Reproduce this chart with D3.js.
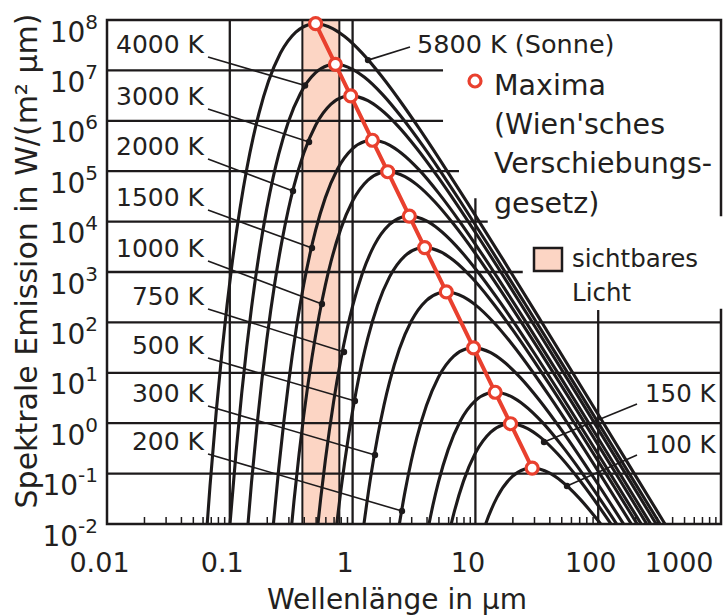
<!DOCTYPE html>
<html>
<head>
<meta charset="utf-8">
<script src="https://cdn.jsdelivr.net/npm/d3@7"></script>
<style>
  html, body { margin: 0; padding: 0; background: #fff; }
  svg { display: block; }
</style>
</head>
<body>
<svg id="chart" width="723" height="616"></svg>
<script>
// ---- data (wavelength in µm, spectral emission in W/(m² µm)) ----
const temps = [5800, 4000, 3000, 2000, 1500, 1000, 750, 500, 300, 200, 150, 100];

const curve5800 = [[0.0603, 6.55e-4], [0.0690, 0.0573], [0.0776, 1.73], [0.0862, 25.0], [0.0948, 212],
  [0.1034, 1.22e3], [0.1207, 1.73e4], [0.1379, 1.16e5], [0.1552, 4.74e5], [0.1724, 1.38e6], [0.2069, 6.13e6],
  [0.2586, 2.21e7], [0.3448, 5.77e7], [0.4310, 7.99e7], [0.500, 8.44e7], [0.6897, 6.76e7], [0.8621, 4.69e7],
  [1.207, 2.15e7], [1.724, 7.64e6], [2.586, 2.01e6], [3.448, 7.29e5], [5.172, 1.64e5], [8.621, 2.36e4],
  [17.24, 1.59e3], [34.48, 103], [86.21, 2.69], [172.4, 0.169], [344.8, 0.0106], [689.7, 6.65e-4]];
const curve4000 = [[0.100, 8.94e-3], [0.1125, 0.270], [0.125, 3.90], [0.1375, 33.1], [0.150, 190],
  [0.175, 2.70e3], [0.200, 1.81e4], [0.225, 7.40e4], [0.250, 2.16e5], [0.300, 9.56e5], [0.375, 3.45e6],
  [0.500, 9.00e6], [0.625, 1.25e7], [0.725, 1.32e7], [1.00, 1.05e7], [1.25, 7.31e6], [1.75, 3.35e6],
  [2.50, 1.19e6], [3.75, 3.14e5], [5.00, 1.14e5], [7.50, 2.56e4], [12.5, 3.68e3], [25.0, 248],
  [50.0, 16.1], [125, 0.420], [250, 0.0264], [500, 1.66e-3]];
const curve3000 = [[0.1333, 2.12e-3], [0.150, 0.0640], [0.1667, 0.926], [0.1833, 7.86], [0.200, 45.0],
  [0.2333, 641], [0.2667, 4.29e3], [0.300, 1.76e4], [0.3333, 5.12e4], [0.400, 2.27e5], [0.500, 8.18e5],
  [0.6667, 2.14e6], [0.8333, 2.96e6], [0.9667, 3.12e6], [1.333, 2.50e6], [1.667, 1.73e6], [2.333, 7.95e5],
  [3.333, 2.83e5], [5.00, 7.44e4], [6.667, 2.70e4], [10.0, 6.08e3], [16.67, 873], [33.33, 58.8],
  [66.67, 3.81], [166.7, 0.0997], [333.3, 6.27e-3]];
const curve2000 = [[0.225, 8.43e-3], [0.250, 0.122], [0.275, 1.04], [0.300, 5.93], [0.350, 84.4],
  [0.400, 565], [0.450, 2.31e3], [0.500, 6.75e3], [0.600, 2.99e4], [0.750, 1.08e5], [1.00, 2.81e5],
  [1.25, 3.89e5], [1.45, 4.11e5], [2.00, 3.30e5], [2.50, 2.28e5], [3.50, 1.05e5], [5.00, 3.72e4],
  [7.50, 9.80e3], [10.0, 3.55e3], [15.0, 801], [25.0, 115], [50.0, 7.74], [100, 0.502], [250, 0.0131],
  [500, 8.26e-4]];
const curve1500 = [[0.300, 2.00e-3], [0.3333, 0.0289], [0.3667, 0.246], [0.400, 1.41], [0.4667, 20.0],
  [0.5333, 134], [0.600, 549], [0.6667, 1.60e3], [0.800, 7.09e3], [1.00, 2.56e4], [1.333, 6.68e4],
  [1.667, 9.24e4], [1.933, 9.76e4], [2.667, 7.82e4], [3.333, 5.42e4], [4.667, 2.48e4], [6.667, 8.84e3],
  [10.0, 2.33e3], [13.33, 843], [20.0, 190], [33.33, 27.3], [66.67, 1.84], [133.3, 0.119], [333.3, 3.11e-3]];
const curve1000 = [[0.500, 3.81e-3], [0.550, 0.0324], [0.600, 0.185], [0.700, 2.64], [0.800, 17.7],
  [0.900, 72.3], [1.00, 211], [1.20, 933], [1.50, 3.37e3], [2.00, 8.79e3], [2.50, 1.22e4], [2.90, 1.29e4],
  [4.00, 1.03e4], [5.00, 7.14e3], [7.00, 3.27e3], [10.0, 1.16e3], [15.0, 306], [20.0, 111], [30.0, 25.0],
  [50.0, 3.59], [100, 0.242], [200, 0.0157], [500, 4.10e-4]];
const curve750 = [[0.7333, 7.68e-3], [0.800, 0.0440], [0.9333, 0.626], [1.0667, 4.19], [1.20, 17.2],
  [1.333, 50.0], [1.60, 221], [2.00, 799], [2.667, 2.09e3], [3.333, 2.89e3], [3.867, 3.05e3],
  [5.333, 2.44e3], [6.667, 1.69e3], [9.333, 776], [13.33, 276], [20.0, 72.7], [26.67, 26.4], [40.0, 5.94],
  [66.67, 0.852], [133.3, 0.0574], [266.7, 3.72e-3]];
const curve500 = [[1.20, 5.79e-3], [1.40, 0.0824], [1.60, 0.552], [1.80, 2.26], [2.00, 6.59], [2.40, 29.2],
  [3.00, 105], [4.00, 275], [5.00, 380], [5.80, 402], [8.00, 322], [10.0, 223], [14.0, 102], [20.0, 36.4],
  [30.0, 9.57], [40.0, 3.47], [60.0, 0.782], [100, 0.112], [200, 7.56e-3]];
const curve300 = [[2.333, 6.41e-3], [2.667, 0.0429], [3.00, 0.176], [3.333, 0.513], [4.00, 2.27],
  [5.00, 8.18], [6.667, 21.4], [8.333, 29.6], [9.667, 31.2], [13.33, 25.0], [16.67, 17.3], [23.33, 7.95],
  [33.33, 2.83], [50.0, 0.744], [66.67, 0.270], [100, 0.0608], [166.7, 8.73e-3]];
const curve200 = [[4.00, 5.65e-3], [4.50, 0.0231], [5.00, 0.0675], [6.00, 0.299], [7.50, 1.08],
  [10.0, 2.81], [12.5, 3.89], [14.5, 4.11], [20.0, 3.29], [25.0, 2.28], [35.0, 1.05], [50.0, 0.372],
  [75.0, 0.0980], [100, 0.0355], [150, 8.01e-3]];
const curve150 = [[6.00, 5.49e-3], [6.667, 0.0160], [8.00, 0.0709], [10.0, 0.256], [13.33, 0.668],
  [16.67, 0.924], [19.33, 0.976], [26.67, 0.782], [33.33, 0.542], [46.67, 0.248], [66.67, 0.0884],
  [100, 0.0233], [133.3, 8.43e-3]];
const curve100 = [[10.0, 2.11e-3], [12.0, 9.33e-3], [15.0, 0.0337], [20.0, 0.0879], [25.0, 0.122],
  [29.0, 0.129], [40.0, 0.103], [50.0, 0.0714], [70.0, 0.0327], [100, 0.0116], [150, 3.06e-3]];

// peaks of each curve (Wien)
const maxima = [[0.500, 8.44e7], [0.725, 1.32e7], [0.966, 3.12e6], [1.449, 4.11e5], [1.932, 9.76e4],
  [2.898, 1.29e4], [3.864, 3.05e3], [5.796, 402], [9.66, 31.2], [14.49, 4.11], [19.32, 0.976], [28.98, 0.129]];

const visibleBand = [0.39, 0.78];

const xTicks = [0.01, 0.1, 1, 10, 100, 1000];
const xTickLabels = ["0.01", "0.1", "1", "10", "100", "1000"];
const yTicks = [1e-2, 1e-1, 1, 1e1, 1e2, 1e3, 1e4, 1e5, 1e6, 1e7, 1e8];
const yTickExps = ["-2", "-1", "0", "1", "2", "3", "4", "5", "6", "7", "8"];

// curve labels and the dots their leaders point at
const leftLabels = ["4000 K", "3000 K", "2000 K", "1500 K", "1000 K", "750 K", "500 K", "300 K", "200 K"];
const leftDots = [[0.41, 5.0e6], [0.442, 3.8e5], [0.327, 4.05e4], [0.467, 2.99e3], [0.563, 232],
  [0.851, 25.9], [1.045, 2.75], [1.522, 0.234], [2.525, 0.0181]];
const rightLabels = ["150 K", "100 K"];
const rightDots = [[36.2, 0.424], [55.7, 0.0568]];
const sunLabel = "5800 K (Sonne)";
const sunDot = [1.335, 1.6e7];

// ---- layout ----
const plot = { left: 107, right: 721, top: 20, bottom: 524 };
const leftLabelY = [53, 105, 155, 206, 257, 305, 354, 402, 450];
const rightLabelY = [402, 453];
const font = "'DejaVu Sans', sans-serif";
const ink = "#231f20";
const lineInk = "#1d1a1b";
const red = "#e9402e";
const pink = "#fcd5c4";

const svg = d3.select("#chart").attr("font-family", font);

const x = d3.scaleLog().domain([0.01, 1000]).range([plot.left, plot.right]);
const y = d3.scaleLog().domain([1e-2, 1e8]).range([plot.bottom, plot.top]);

svg.append("defs").append("clipPath").attr("id", "clip")
  .append("rect")
  .attr("x", plot.left).attr("y", plot.top)
  .attr("width", plot.right - plot.left).attr("height", plot.bottom - plot.top);

// visible light band
svg.append("rect")
  .attr("x", x(visibleBand[0])).attr("y", plot.top)
  .attr("width", x(visibleBand[1]) - x(visibleBand[0]))
  .attr("height", plot.bottom - plot.top)
  .attr("fill", pink);

// horizontal grid, some lines stop short to leave room for the legend
const hGridEnd = new Map([[1e7, 5.45], [1e6, 5.45], [1e5, 7.35], [1e4, 12.6], [1e3, 24.3]]);
svg.append("g").selectAll("line")
  .data(yTicks.slice(1, -1))
  .join("line")
  .attr("x1", plot.left)
  .attr("x2", d => x(hGridEnd.get(d) ?? 1000))
  .attr("y1", d => y(d)).attr("y2", d => y(d))
  .attr("stroke", lineInk).attr("stroke-width", 2.3);

// vertical grid [wavelength, top value]
const vGrid = [[0.1, 1e8], [1, 1e8], [10, 2.9e4], [100, 176]];
svg.append("g").selectAll("line")
  .data(vGrid)
  .join("line")
  .attr("x1", d => x(d[0])).attr("x2", d => x(d[0]))
  .attr("y1", d => y(d[1])).attr("y2", plot.bottom)
  .attr("stroke", lineInk).attr("stroke-width", 2.3);

// band edges
svg.append("g").selectAll("line")
  .data(visibleBand)
  .join("line")
  .attr("x1", d => x(d)).attr("x2", d => x(d))
  .attr("y1", plot.top).attr("y2", plot.bottom)
  .attr("stroke", lineInk).attr("stroke-width", 2);

// frame; the right side is broken where the legend sits
const L = plot.left, R = plot.right, T = plot.top, B = plot.bottom;
svg.append("path")
  .attr("d", `M${R},${y(1.35e4)}V${T}H${L}V${B}H${R}V${y(176)}`)
  .attr("fill", "none").attr("stroke", lineInk).attr("stroke-width", 2.5)
  .attr("stroke-linecap", "square");

// minor ticks inside the bottom axis
const minorTicks = [];
[0.01, 0.1, 1, 10, 100].forEach(dec => {
  for (let k = 2; k <= 9; k++) minorTicks.push(k * dec);
});
svg.append("g")
  .attr("transform", `translate(0,${plot.bottom})`)
  .call(d3.axisBottom(x).tickValues(minorTicks).tickSize(-7).tickFormat(""))
  .call(g => g.select(".domain").remove())
  .call(g => g.selectAll(".tick line").attr("stroke", lineInk).attr("stroke-width", 1.5));

// x tick labels
svg.append("g")
  .attr("transform", `translate(0,${plot.bottom})`)
  .call(d3.axisBottom(x).tickValues(xTicks).tickSize(0).tickFormat((d, i) => xTickLabels[i]))
  .call(g => g.select(".domain").remove())
  .call(g => g.selectAll(".tick text")
    .attr("y", 48).attr("dy", null).attr("dx", -8)
    .attr("font-size", 27).attr("font-family", font).attr("fill", ink)
    .attr("text-anchor", d => d === 1000 ? "end" : "middle"));

// y tick labels 10^n
svg.append("g")
  .attr("transform", `translate(${plot.left},0)`)
  .call(d3.axisLeft(y).tickValues(yTicks).tickSize(0).tickFormat(""))
  .call(g => g.select(".domain").remove())
  .call(g => g.selectAll(".tick text")
    .attr("x", -9).attr("y", 21).attr("dy", null)
    .attr("font-size", 28).attr("font-family", font).attr("fill", ink)
    .text("10")
    .append("tspan")
    .attr("dy", -13).attr("font-size", 20)
    .text(d => yTickExps[yTicks.indexOf(d)]));

// Planck curves
const curves = [curve5800, curve4000, curve3000, curve2000, curve1500, curve1000,
  curve750, curve500, curve300, curve200, curve150, curve100];
const line = d3.line()
  .x(d => x(d[0]))
  .y(d => y(d[1]))
  .curve(d3.curveMonotoneX);

svg.append("g").attr("clip-path", "url(#clip)")
  .selectAll("path")
  .data(curves)
  .join("path")
  .attr("d", line)
  .attr("fill", "none")
  .attr("stroke", lineInk)
  .attr("stroke-width", 3.1);

// leader lines + dots
const leaders = svg.append("g");
leftLabels.forEach((t, i) => {
  leaders.append("line")
    .attr("x1", 208).attr("y1", leftLabelY[i] + 4)
    .attr("x2", x(leftDots[i][0])).attr("y2", y(leftDots[i][1]));
});
rightLabels.forEach((t, i) => {
  leaders.append("line")
    .attr("x1", 637).attr("y1", rightLabelY[i] + 2)
    .attr("x2", x(rightDots[i][0])).attr("y2", y(rightDots[i][1]));
});
leaders.append("line")
  .attr("x1", 410).attr("y1", 47)
  .attr("x2", x(sunDot[0])).attr("y2", y(sunDot[1]));
leaders.selectAll("line").attr("stroke", lineInk).attr("stroke-width", 1.6);

svg.append("g").selectAll("circle")
  .data(leftDots.concat(rightDots, [sunDot]))
  .join("circle")
  .attr("cx", d => x(d[0])).attr("cy", d => y(d[1]))
  .attr("r", 3.2)
  .attr("fill", lineInk);

// Wien maxima
svg.append("path")
  .datum(maxima)
  .attr("d", d3.line().x(d => x(d[0])).y(d => y(d[1])))
  .attr("fill", "none")
  .attr("stroke", red)
  .attr("stroke-width", 4);
svg.append("g").selectAll("circle")
  .data(maxima)
  .join("circle")
  .attr("cx", d => x(d[0])).attr("cy", d => y(d[1]))
  .attr("r", 6)
  .attr("fill", "#fff")
  .attr("stroke", red)
  .attr("stroke-width", 3.2);

// curve labels
svg.append("g").selectAll("text")
  .data(leftLabels)
  .join("text")
  .attr("x", 204).attr("y", (d, i) => leftLabelY[i])
  .attr("text-anchor", "end")
  .attr("font-size", 25)
  .attr("fill", ink)
  .text(d => d);
svg.append("g").selectAll("text")
  .data(rightLabels)
  .join("text")
  .attr("x", 645).attr("y", (d, i) => rightLabelY[i])
  .attr("font-size", 24.5)
  .attr("fill", ink)
  .text(d => d);
svg.append("text")
  .attr("x", 417).attr("y", 53)
  .attr("font-size", 25.5)
  .attr("fill", ink)
  .text(sunLabel);

// legend: maxima
svg.append("circle")
  .attr("cx", 475).attr("cy", 81).attr("r", 6)
  .attr("fill", "#fff").attr("stroke", red).attr("stroke-width", 3.2);
svg.append("text")
  .attr("font-size", 28.5)
  .attr("fill", ink)
  .selectAll("tspan")
  .data(["Maxima", "(Wien'sches", "Verschiebungs-", "gesetz)"])
  .join("tspan")
  .attr("x", 494)
  .attr("y", (d, i) => 95 + i * 39.2)
  .text(d => d);

// legend: visible light
svg.append("rect")
  .attr("x", 534).attr("y", 248).attr("width", 28).attr("height", 23)
  .attr("fill", pink).attr("stroke", lineInk).attr("stroke-width", 2.5);
svg.append("text")
  .attr("font-size", 24.5)
  .attr("fill", ink)
  .selectAll("tspan")
  .data(["sichtbares", "Licht"])
  .join("tspan")
  .attr("x", 572)
  .attr("y", (d, i) => 267 + i * 34)
  .text(d => d);

// axis titles
svg.append("text")
  .attr("x", 397)
  .attr("y", 609)
  .attr("text-anchor", "middle")
  .attr("font-size", 28)
  .attr("fill", ink)
  .text("Wellenlänge in µm");
svg.append("text")
  .attr("transform", "translate(37,261) rotate(-90)")
  .attr("text-anchor", "middle")
  .attr("font-size", 30)
  .attr("fill", ink)
  .text("Spektrale Emission in W/(m² µm)");
</script>
</body>
</html>
